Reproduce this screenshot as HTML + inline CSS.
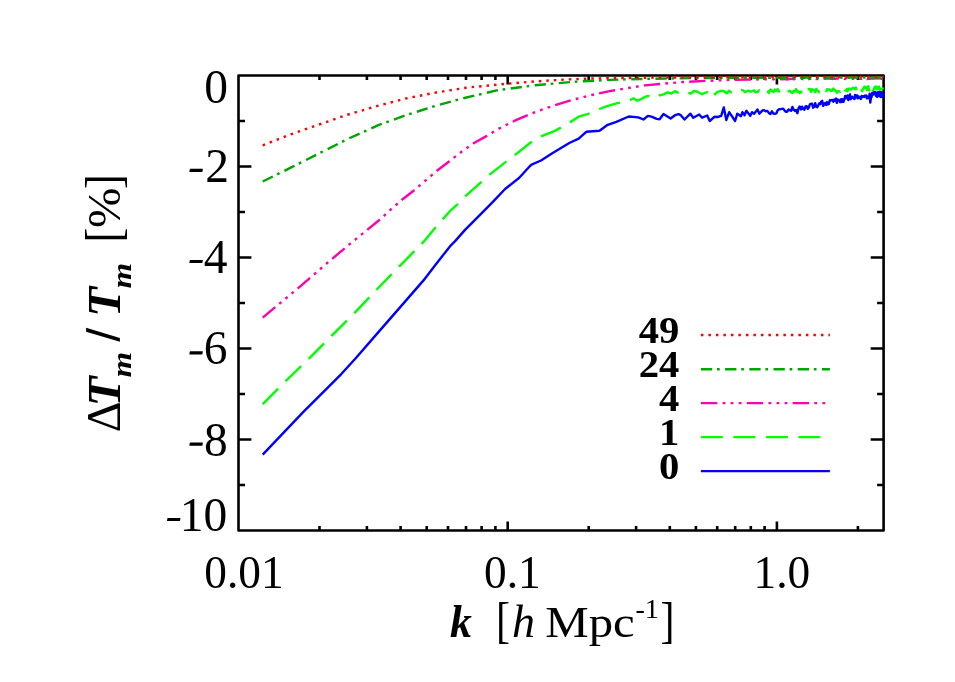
<!DOCTYPE html>
<html><head><meta charset="utf-8"><title>plot</title>
<style>
html,body{margin:0;padding:0;background:#fff;}
body{width:955px;height:682px;overflow:hidden;}
svg{display:block;will-change:transform;}
text{font-family:"Liberation Serif",serif;fill:#000;}
.tk{font-size:47.5px;}
.lg{font-size:38px;font-weight:bold;}
.c{fill:none;stroke-width:2.4;stroke-linejoin:round;stroke-linecap:butt;}
.ax{fill:none;stroke:#000;stroke-width:2.6;stroke-linecap:butt;stroke-linejoin:round;}
</style></head><body>
<svg width="955" height="682" viewBox="0 0 955 682">
<rect x="0" y="0" width="955" height="682" fill="#fff"/>
<defs><clipPath id="cp"><rect x="238.5" y="75.5" width="645.6" height="455.0"/></clipPath></defs>
<path class="ax" d="M238.5 121.0h6.5M883.6 121.0h-6.5M238.5 166.5h12.9M883.6 166.5h-12.9M238.5 212.0h6.5M883.6 212.0h-6.5M238.5 257.5h12.9M883.6 257.5h-12.9M238.5 303.0h6.5M883.6 303.0h-6.5M238.5 348.5h12.9M883.6 348.5h-12.9M238.5 394.0h6.5M883.6 394.0h-6.5M238.5 439.5h12.9M883.6 439.5h-12.9M238.5 485.0h6.5M883.6 485.0h-6.5M319.5 530.5v-4.6M319.5 75.5v4.6M366.9 530.5v-4.6M366.9 75.5v4.6M400.6 530.5v-4.6M400.6 75.5v4.6M426.7 530.5v-4.6M426.7 75.5v4.6M448.0 530.5v-4.6M448.0 75.5v4.6M466.0 530.5v-4.6M466.0 75.5v4.6M481.6 530.5v-4.6M481.6 75.5v4.6M495.4 530.5v-4.6M495.4 75.5v4.6M507.7 530.5v-9.1M507.7 75.5v9.1M588.7 530.5v-4.6M588.7 75.5v4.6M636.1 530.5v-4.6M636.1 75.5v4.6M669.8 530.5v-4.6M669.8 75.5v4.6M695.9 530.5v-4.6M695.9 75.5v4.6M717.2 530.5v-4.6M717.2 75.5v4.6M735.2 530.5v-4.6M735.2 75.5v4.6M750.8 530.5v-4.6M750.8 75.5v4.6M764.6 530.5v-4.6M764.6 75.5v4.6M776.9 530.5v-9.1M776.9 75.5v9.1M857.9 530.5v-4.6M857.9 75.5v4.6"/>
<rect class="ax" x="238.5" y="75.5" width="645.1" height="455.0"/>
<g clip-path="url(#cp)">
<polyline class="c" stroke="#0000ff" points="262.7,454.6 302.9,412.3 330.5,384.8 341.5,373.8 355.7,358.3 380.8,329.4 405.9,300.6 423.5,280.4 436.1,264.1 449.9,246.4 454.9,241.4 464.8,230.1 478.0,216.9 492.6,202.2 505.1,189.0 519.0,178.0 530.0,166.0 531.6,164.6 541.0,160.5 552.3,153.3 569.3,143.0 578.7,138.6 586.3,131.8 599.5,130.8 607.0,125.2 616.4,121.8 628.7,116.5 638.3,117.4 643.5,119.5 647.9,115.9 651.5,116.7 656.7,118.9 659.6,119.2 663.5,114.0 670.6,118.5 675.0,115.2 678.6,114.2 680.8,115.2 684.5,119.5 690.4,113.7 693.3,117.7 699.2,114.5 702.1,117.7 707.2,115.5 709.7,121.0 714.6,116.7 717.5,117.0 721.2,115.9 723.8,107.4 726.3,120.0 729.2,112.2 731.7,115.9 735.1,121.0 737.3,113.7 741.0,116.2 742.4,112.2 744.6,115.2 746.4,110.8 750.2,115.9 752.0,112.2 754.1,113.7 757.5,109.4 759.3,113.7 760.9,112.1 762.5,110.4 764.1,110.2 765.7,111.2 767.3,110.9 768.8,112.9 770.4,114.0 771.9,111.3 773.4,113.6 774.8,113.7 776.3,113.4 777.7,110.2 779.1,109.3 780.5,109.2 781.9,108.9 783.3,108.7 784.6,110.7 786.0,111.9 787.3,111.5 788.6,109.4 789.9,110.2 791.2,110.8 792.4,106.9 793.7,109.7 794.9,110.9 796.1,110.0 797.4,113.2 798.6,108.1 799.7,106.4 800.9,109.4 802.1,106.7 803.2,109.0 804.4,109.7 805.5,106.4 806.6,106.2 807.7,108.9 808.8,107.5 809.9,104.3 811.0,103.8 812.1,103.7 813.1,107.7 814.2,106.9 815.2,103.1 816.2,106.6 817.3,107.2 818.3,105.2 819.3,103.3 820.3,104.2 821.2,101.7 822.2,100.8 823.2,105.9 824.2,103.9 825.1,103.0 826.1,105.1 827.0,102.1 827.9,104.4 828.9,104.0 829.8,100.2 830.7,100.3 831.6,100.3 832.5,99.9 833.4,101.7 834.3,99.6 835.1,100.4 836.0,98.5 836.9,102.9 837.7,99.5 838.6,99.9 839.4,100.5 840.2,102.2 841.1,99.2 841.9,101.9 842.7,99.3 843.5,101.8 844.4,99.1 845.2,96.0 846.0,98.3 846.7,96.7 847.5,95.5 848.3,100.1 849.1,96.2 849.9,94.4 850.6,99.3 851.4,98.2 852.1,96.7 852.9,97.7 853.6,97.8 854.4,99.1 855.1,94.9 855.9,97.5 856.6,95.5 857.3,95.5 858.0,98.4 858.7,96.7 859.5,96.9 860.2,98.0 860.9,98.9 861.6,95.9 862.3,96.9 862.9,96.1 863.6,96.1 864.3,97.1 865.0,95.6 865.7,96.0 866.3,95.6 867.0,98.4 867.7,96.8 868.3,97.8 869.0,98.1 869.6,93.8 870.3,102.6 870.9,97.9 871.6,97.2 872.2,92.8 872.8,92.6 873.5,94.5 874.1,92.1 874.7,93.1 875.3,92.0 876.0,95.7 876.6,96.4 877.2,97.0 877.8,92.2 878.4,95.7 879.0,95.3 879.6,92.0 880.2,96.6 880.8,97.1 881.4,92.3 881.9,96.9 882.5,93.3 883.1,93.8 883.3,97.0"/>
<polyline class="c" stroke="#00ff00" stroke-dasharray="21.85 10.4" points="262.7,404.1 285.3,381.4 309.2,358.3 331.8,335.6 354.4,313.1 377.0,289.2 399.6,266.1 423.5,241.9 434.0,229.2 442.8,219.1 450.8,210.3 457.4,204.4 465.1,196.4 480.9,182.4 489.0,175.1 505.8,161.9 514.6,155.3 529.7,143.3 541.0,136.4 554.2,131.1 565.5,125.2 578.7,116.7 588.2,113.8 599.5,109.0 607.0,106.2 618.3,102.9 628.7,100.9 633.4,98.2 637.2,100.7 640.0,99.7 643.4,97.7 647.8,95.9 652.1,97.1 656.2,94.2 660.2,95.3 664.0,94.1 667.7,92.3 671.3,93.5 674.8,91.2 678.2,92.6 681.5,90.9 684.7,90.8 687.8,92.2 690.8,93.7 693.8,91.0 696.7,91.4 699.5,93.0 702.2,94.2 704.9,92.8 707.6,92.2 710.1,94.6 712.6,91.0 715.1,94.2 717.5,91.8 719.9,91.1 722.2,90.8 724.5,91.5 726.7,93.4 728.9,90.7 731.0,92.2 733.1,92.4 735.2,91.3 737.2,91.9 739.2,89.9 741.2,89.8 743.1,90.3 745.0,92.2 746.9,91.1 748.7,90.6 750.5,91.7 752.3,91.1 754.1,90.4 755.8,92.4 757.5,92.0 759.2,90.1 760.9,91.4 762.5,91.2 764.1,92.7 765.7,92.0 767.3,90.2 768.8,93.1 770.4,89.5 771.9,90.7 773.4,92.1 774.8,89.6 776.3,91.0 777.7,89.1 779.1,91.7 780.5,92.1 781.9,91.3 783.3,92.5 784.6,90.2 786.0,91.8 787.3,91.3 788.6,91.3 789.9,90.7 791.2,92.4 792.4,92.8 793.7,90.8 794.9,91.6 796.1,89.0 797.4,91.7 798.6,91.5 799.7,93.0 800.9,92.2 802.1,89.9 803.2,90.3 804.4,91.5 805.5,88.8 806.6,90.6 807.7,89.4 808.8,89.1 809.9,88.9 811.0,91.9 812.1,89.2 813.1,89.7 814.2,90.3 815.2,92.3 816.2,88.9 817.3,90.5 818.3,90.9 819.3,92.4 820.3,92.1 821.2,92.3 822.2,89.7 823.2,90.3 824.2,90.1 825.1,92.3 826.1,92.7 827.0,89.1 827.9,89.3 828.9,89.5 829.8,89.5 830.7,90.6 831.6,91.1 832.5,89.7 833.4,88.6 834.3,90.4 835.1,90.2 836.0,91.1 836.9,92.8 837.7,91.7 838.6,91.0 839.4,91.4 840.2,91.7 841.1,89.0 841.9,92.7 842.7,92.2 843.5,92.7 844.4,92.3 845.2,90.6 846.0,90.5 846.7,89.1 847.5,91.3 848.3,88.7 849.1,88.6 849.9,89.2 850.6,88.9 851.4,89.5 852.1,88.2 852.9,87.8 853.6,88.4 854.4,88.1 855.1,89.2 855.9,87.6 856.6,91.2 857.3,90.0 858.0,87.8 858.7,88.2 859.5,88.5 860.2,88.5 860.9,87.4 861.6,90.5 862.3,91.1 862.9,88.6 863.6,88.6 864.3,86.8 865.0,86.8 865.7,87.8 866.3,87.5 867.0,89.9 867.7,86.9 868.3,86.3 869.0,90.3 869.6,88.4 870.3,86.7 870.9,88.4 871.6,86.1 872.2,88.3 872.8,90.2 873.5,89.7 874.1,88.9 874.7,86.9 875.3,87.3 876.0,86.4 876.6,89.1 877.2,88.0 877.8,89.0 878.4,87.0 879.0,86.5 879.6,89.1 880.2,89.8 880.8,89.2 881.4,88.9 881.9,89.0 882.5,88.6 883.1,86.2 883.3,87.5"/>
<polyline class="c" stroke="#ff00b0" stroke-dasharray="16.3 5.2 2.8 5.2 2.8 5.2 2.8 5.2" points="262.7,317.6 297.9,288.4 330.5,260.2 350.6,243.4 380.8,218.8 390.0,210.2 401.7,200.0 414.2,190.2 436.9,170.8 449.4,161.2 460.0,152.9 473.6,143.3 486.8,135.9 497.7,129.2 516.5,119.9 535.4,112.0 554.2,105.4 573.1,99.7 591.9,95.0 610.8,90.9 629.6,87.8 644.9,85.4 659.6,84.0 683.0,82.0 705.0,80.9 728.5,80.0 757.8,79.4 762.5,79.5 764.1,79.1 765.7,79.2 767.3,79.3 768.8,79.1 770.4,79.0 771.9,79.1 773.4,79.4 774.8,78.9 776.3,79.2 777.7,79.1 779.1,78.8 780.5,79.0 781.9,79.2 783.3,79.2 784.6,78.8 786.0,79.5 787.3,79.3 788.6,79.4 789.9,78.8 791.2,78.9 792.4,78.7 793.7,79.3 794.9,78.9 796.1,78.8 797.4,79.0 798.6,79.3 799.7,79.2 800.9,78.8 802.1,78.7 803.2,79.3 804.4,79.0 805.5,79.1 806.6,78.7 807.7,78.6 808.8,79.1 809.9,78.9 811.0,78.6 812.1,79.2 813.1,79.0 814.2,79.1 815.2,78.6 816.2,79.1 817.3,78.6 818.3,79.1 819.3,78.8 820.3,78.7 821.2,78.9 822.2,79.1 823.2,78.7 824.2,78.6 825.1,78.8 826.1,78.6 827.0,78.5 827.9,78.6 828.9,78.5 829.8,78.6 830.7,78.7 831.6,78.7 832.5,79.0 833.4,78.6 834.3,78.8 835.1,78.6 836.0,78.7 836.9,78.4 837.7,78.6 838.6,78.4 839.4,78.9 840.2,78.8 841.1,78.5 841.9,78.7 842.7,79.0 843.5,78.5 844.4,79.0 845.2,78.7 846.0,78.7 846.7,79.0 847.5,78.6 848.3,78.7 849.1,78.8 849.9,79.0 850.6,78.6 851.4,78.9 852.1,78.8 852.9,78.8 853.6,78.6 854.4,78.6 855.1,78.4 855.9,78.4 856.6,78.4 857.3,78.8 858.0,78.5 858.7,78.4 859.5,78.4 860.2,78.9 860.9,78.9 861.6,78.8 862.3,78.5 862.9,78.5 863.6,78.5 864.3,78.6 865.0,78.4 865.7,78.6 866.3,78.5 867.0,79.0 867.7,79.0 868.3,78.7 869.0,78.4 869.6,78.9 870.3,78.5 870.9,78.5 871.6,78.3 872.2,78.5 872.8,78.6 873.5,78.6 874.1,78.4 874.7,78.6 875.3,78.2 876.0,78.4 876.6,78.3 877.2,78.5 877.8,78.3 878.4,78.2 879.0,78.4 879.6,78.4 880.2,78.6 880.8,78.6 881.4,78.7 881.9,78.7 882.5,78.7 883.1,78.8 883.3,78.5"/>
<polyline class="c" stroke="#00a600" stroke-dasharray="11.3 4.8 2.7 5.4" points="262.7,181.5 290.3,167.9 319.2,153.3 348.1,138.8 378.3,125.2 405.9,115.2 436.1,105.7 462.8,98.4 497.7,90.2 535.4,85.2 573.1,81.8 610.8,79.9 639.0,79.0 700.0,78.0 762.5,77.7 764.1,77.6 765.7,78.0 767.3,77.5 768.8,77.8 770.4,77.8 771.9,77.5 773.4,77.9 774.8,77.9 776.3,77.7 777.7,77.8 779.1,77.8 780.5,77.5 781.9,77.7 783.3,77.6 784.6,77.8 786.0,77.8 787.3,77.8 788.6,77.7 789.9,77.8 791.2,77.7 792.4,77.7 793.7,77.5 794.9,77.4 796.1,77.4 797.4,77.5 798.6,77.4 799.7,77.8 800.9,77.6 802.1,77.7 803.2,77.7 804.4,77.7 805.5,77.6 806.6,77.4 807.7,77.7 808.8,77.7 809.9,77.6 811.0,77.6 812.1,77.7 813.1,77.4 814.2,77.7 815.2,77.5 816.2,77.4 817.3,77.5 818.3,77.7 819.3,77.4 820.3,77.7 821.2,77.8 822.2,77.6 823.2,77.5 824.2,77.6 825.1,77.7 826.1,77.7 827.0,77.6 827.9,77.6 828.9,77.3 829.8,77.4 830.7,77.4 831.6,77.7 832.5,77.5 833.4,77.6 834.3,77.3 835.1,77.3 836.0,77.4 836.9,77.6 837.7,77.6 838.6,77.6 839.4,77.4 840.2,77.5 841.1,77.5 841.9,77.5 842.7,77.3 843.5,77.7 844.4,77.4 845.2,77.8 846.0,77.7 846.7,77.3 847.5,77.5 848.3,77.7 849.1,77.8 849.9,77.5 850.6,77.4 851.4,77.4 852.1,77.7 852.9,77.4 853.6,77.5 854.4,77.3 855.1,77.5 855.9,77.7 856.6,77.3 857.3,77.7 858.0,77.5 858.7,77.7 859.5,77.6 860.2,77.4 860.9,77.7 861.6,77.5 862.3,77.3 862.9,77.2 863.6,77.5 864.3,77.5 865.0,77.4 865.7,77.3 866.3,77.4 867.0,77.4 867.7,77.7 868.3,77.2 869.0,77.6 869.6,77.6 870.3,77.3 870.9,77.7 871.6,77.6 872.2,77.7 872.8,77.4 873.5,77.4 874.1,77.4 874.7,77.7 875.3,77.5 876.0,77.4 876.6,77.4 877.2,77.3 877.8,77.2 878.4,77.3 879.0,77.6 879.6,77.3 880.2,77.7 880.8,77.3 881.4,77.3 881.9,77.5 882.5,77.3 883.1,77.4 883.3,77.5"/>
<polyline class="c" stroke="#ff0000" stroke-dasharray="2.5 5" points="262.7,145.3 290.3,134.5 319.2,124.5 348.1,114.5 378.3,105.7 405.9,98.5 436.1,92.5 466.2,87.7 507.1,83.7 535.4,81.4 565.5,79.5 591.9,78.5 639.0,77.8 700.0,77.2 762.5,77.2 764.1,77.2 765.7,77.1 767.3,77.1 768.8,77.2 770.4,77.2 771.9,77.0 773.4,77.1 774.8,76.8 776.3,77.1 777.7,76.9 779.1,77.1 780.5,77.0 781.9,76.9 783.3,76.8 784.6,77.1 786.0,76.8 787.3,76.9 788.6,76.9 789.9,76.8 791.2,77.0 792.4,77.1 793.7,76.8 794.9,77.0 796.1,76.8 797.4,76.9 798.6,76.9 799.7,76.8 800.9,76.8 802.1,76.8 803.2,77.1 804.4,76.9 805.5,76.8 806.6,77.1 807.7,77.1 808.8,76.9 809.9,76.7 811.0,76.8 812.1,76.7 813.1,76.8 814.2,76.7 815.2,76.8 816.2,76.8 817.3,76.9 818.3,77.0 819.3,77.0 820.3,76.8 821.2,76.8 822.2,76.9 823.2,76.8 824.2,76.8 825.1,76.7 826.1,76.8 827.0,77.0 827.9,76.7 828.9,76.9 829.8,76.9 830.7,77.0 831.6,76.7 832.5,76.8 833.4,76.7 834.3,76.8 835.1,76.8 836.0,77.0 836.9,77.0 837.7,77.0 838.6,76.6 839.4,76.6 840.2,76.9 841.1,77.0 841.9,76.8 842.7,76.9 843.5,76.6 844.4,76.8 845.2,77.0 846.0,77.0 846.7,77.0 847.5,77.0 848.3,76.7 849.1,76.7 849.9,76.7 850.6,76.8 851.4,76.9 852.1,77.0 852.9,76.9 853.6,76.9 854.4,76.9 855.1,76.8 855.9,76.8 856.6,76.6 857.3,76.9 858.0,76.7 858.7,77.0 859.5,76.9 860.2,76.7 860.9,76.6 861.6,76.7 862.3,76.8 862.9,76.9 863.6,76.6 864.3,76.6 865.0,76.8 865.7,76.8 866.3,76.7 867.0,76.7 867.7,76.8 868.3,76.6 869.0,76.7 869.6,76.8 870.3,77.0 870.9,76.8 871.6,76.9 872.2,76.8 872.8,76.7 873.5,76.7 874.1,77.0 874.7,76.8 875.3,76.7 876.0,76.6 876.6,76.8 877.2,76.8 877.8,76.7 878.4,76.7 879.0,76.8 879.6,76.9 880.2,76.6 880.8,76.6 881.4,76.7 881.9,76.7 882.5,76.8 883.1,76.6 883.3,76.8"/>
</g>
<text class="tk" x="227.9" y="102.6" text-anchor="end">0</text>
<text class="tk" x="229.0" y="181.8" text-anchor="end">2</text>
<path d="M189.3 171.9l13.0 0l0.6 -3.1l-13.0 0z" fill="#000"/>
<text class="tk" x="227.4" y="272.9" text-anchor="end">4</text>
<path d="M189.3 263.0l13.0 0l0.6 -3.1l-13.0 0z" fill="#000"/>
<text class="tk" x="227.5" y="364.3" text-anchor="end">6</text>
<path d="M189.3 354.4l13.0 0l0.6 -3.1l-13.0 0z" fill="#000"/>
<text class="tk" x="227.8" y="455.6" text-anchor="end">8</text>
<path d="M189.3 445.7l13.0 0l0.6 -3.1l-13.0 0z" fill="#000"/>
<text class="tk" x="227.3" y="531.0" text-anchor="end">10</text>
<path d="M166.9 521.1l13.0 0l0.6 -3.1l-13.0 0z" fill="#000"/>
<text class="tk" transform="translate(244.0 587.6) scale(0.955 1)" text-anchor="middle">0.01</text>
<text class="tk" transform="translate(512.3 587.6) scale(0.955 1)" text-anchor="middle">0.1</text>
<text class="tk" transform="translate(781.9 587.6) scale(0.955 1)" text-anchor="middle">1.0</text>
<g id="xt">
<text transform="translate(450.0 636.5) scale(0.950 1)" style="font-size:46px;font-weight:bold;font-style:italic;">k</text>
<text transform="translate(496.1 637.2) scale(0.840 1)" style="font-size:50px;">[</text>
<text transform="translate(511.9 636.5) scale(1.000 1)" style="font-size:46px;font-style:italic;">h</text>
<text x="545.3" y="636.5" style="font-size:44px" textLength="89.5" lengthAdjust="spacingAndGlyphs">Mpc</text>
<text x="635.4" y="617.5" style="font-size:27px" textLength="23.6" lengthAdjust="spacingAndGlyphs">-1</text>
<text transform="translate(660.4 637.2) scale(0.840 1)" style="font-size:50px;">]</text>
</g>
<g id="yt" transform="translate(119.6 431.6) rotate(-90)">
<text transform="translate(-0.6 0.0) scale(1.000 1)" style="font-size:48px;">Δ</text>
<text transform="translate(25.1 0.0) scale(1.040 1)" style="font-size:47px;font-weight:bold;font-style:italic;">T</text>
<text transform="translate(54.2 11.3) scale(1.180 1)" style="font-size:28px;font-weight:bold;font-style:italic;">m</text>
<path d="M89.8 0.3L93.6 0.3L103.8 -33.5L99.8 -33.5Z" fill="#000"/>
<text transform="translate(114.5 0.0) scale(1.040 1)" style="font-size:47px;font-weight:bold;font-style:italic;">T</text>
<text transform="translate(143.2 11.3) scale(1.180 1)" style="font-size:28px;font-weight:bold;font-style:italic;">m</text>
<text transform="translate(189.2 0.0) scale(0.870 1)" style="font-size:51px;">[</text>
<text transform="translate(203.6 0.3) scale(1.030 1)" style="font-size:47px;">%</text>
<text transform="translate(242.5 0.0) scale(0.870 1)" style="font-size:51px;">]</text>
</g>
<path class="c" stroke="#ff0000" stroke-dasharray="2.5 5" d="M700.9 335.0H829.9"/>
<text class="lg" transform="translate(679.4 342.8) scale(1.07 1)" text-anchor="end">49</text>
<path class="c" stroke="#00a600" stroke-dasharray="11.3 4.8 2.7 5.4" d="M700.9 369.2H829.9"/>
<text class="lg" transform="translate(679.4 377.0) scale(1.07 1)" text-anchor="end">24</text>
<path class="c" stroke="#ff00b0" stroke-dasharray="16.4 5.27 2.8 5.27 2.8 5.27 2.8 5.27" d="M700.9 403.1H829.9"/>
<text class="lg" transform="translate(679.4 410.9) scale(1.07 1)" text-anchor="end">4</text>
<path class="c" stroke="#00ff00" stroke-dasharray="22 10.5" d="M700.9 437.1H829.9"/>
<text class="lg" transform="translate(679.4 444.9) scale(1.07 1)" text-anchor="end">1</text>
<path class="c" stroke="#0000ff" d="M700.9 471.1H829.9"/>
<text class="lg" transform="translate(679.4 478.9) scale(1.07 1)" text-anchor="end">0</text>
</svg></body></html>
